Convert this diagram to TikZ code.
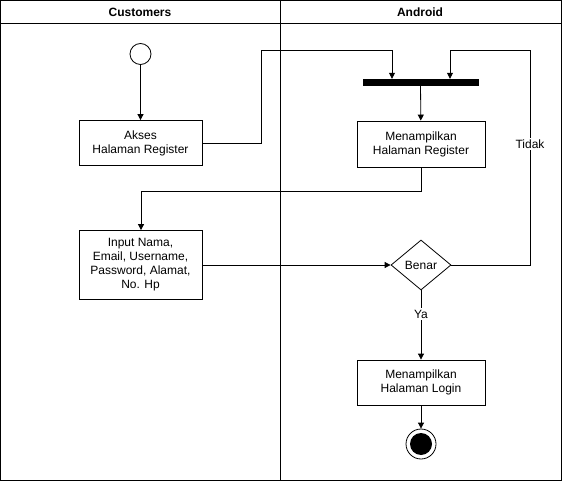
\documentclass[tikz,border=0pt]{standalone}
\usepackage{fontspec}
\setmainfont{Liberation Sans}
\usetikzlibrary{shapes.geometric,arrows.meta}
\begin{document}
\begin{tikzpicture}[x=1pt,y=-1pt,
  every node/.style={font=\fontsize{12}{14}\selectfont},
  lane/.style={draw,line width=0.8pt},
  act/.style={draw,line width=0.8pt,minimum width=128pt,minimum height=46pt,align=center,inner sep=2pt},
  actL/.style={draw,line width=0.8pt,minimum width=123pt,align=center,inner sep=2pt},
  dec/.style={draw,diamond,line width=0.8pt,minimum width=60pt,minimum height=50pt,aspect=1.2,inner sep=0pt},
  flow/.style={line width=0.8pt,-{Triangle[length=6pt,width=6pt]}},
  plain/.style={line width=0.8pt},
  lbl/.style={fill=white,inner sep=1.5pt}]
\useasboundingbox (0,0) rectangle (562,481);
% swimlanes
\draw[lane] (0.5,0.5) rectangle (561.5,480.5);
\draw[lane] (0.5,23.5) -- (561.5,23.5);
\draw[lane] (280.5,0.5) -- (280.5,480.5);
\node[font=\fontsize{12}{14}\selectfont\bfseries] (h1) at (140,12) {Customers};
\node[font=\fontsize{12}{14}\selectfont\bfseries] (h2) at (420,12) {Android};
% nodes
\node[draw,circle,line width=0.8pt,minimum size=21pt,inner sep=0pt] (start) at (140.5,54) {};
\node[actL,minimum height=45pt] (akses) at (140.5,143) {Akses\\Halaman Register};
\node[draw,fill=black,minimum width=115pt,minimum height=6pt,inner sep=0pt] (bar) at (420.5,82) {};
\node[act] (reg) at (421,144) {Menampilkan\\Halaman Register};
\node[actL,minimum height=69pt] (input) at (140.5,265) {Input Nama,\\Email, Username,\\Password, Alamat,\\No. Hp};
\node[dec] (benar) at (421,265) {Benar};
\node[act,minimum height=45pt] (login) at (421,382.5) {Menampilkan\\Halaman Login};
\node[draw,circle,line width=0.8pt,minimum size=30pt,inner sep=0pt] (end) at (421,444) {};
\node[circle,fill=black,minimum size=22pt,inner sep=0pt] (endin) at (421,444) {};
\coordinate (c1) at (261,143);
\coordinate (c2) at (261,50);
\coordinate (c3) at (392,50);
\coordinate (c4) at (530,265);
\coordinate (c5) at (530,50);
\coordinate (c6) at (450,50);
\coordinate (c7) at (421,191);
\coordinate (c8) at (141,191);
% connectors
\draw[flow] (start) -- (akses);
\draw[flow] (akses.east) -- (c1) -- (c2) -- (c3) -- (c3 |- bar.north);
\draw[flow] (benar.east) -- (c4) -- (c5) -- (c6) -- (c6 |- bar.north);
\node[lbl] (tidak) at (530,144) {Tidak};
\draw[flow] (bar) -- (reg);
\draw[flow] (reg.south) -- (c7) -- (c8) -- (c8 |- input.north);
\draw[flow] (input.east) -- (benar.west);
\draw[flow] (benar.south) -- (login.north);
\node[lbl] (ya) at (421,314) {Ya};
\draw[flow] (login) -- (end);
\end{tikzpicture}
\end{document}
